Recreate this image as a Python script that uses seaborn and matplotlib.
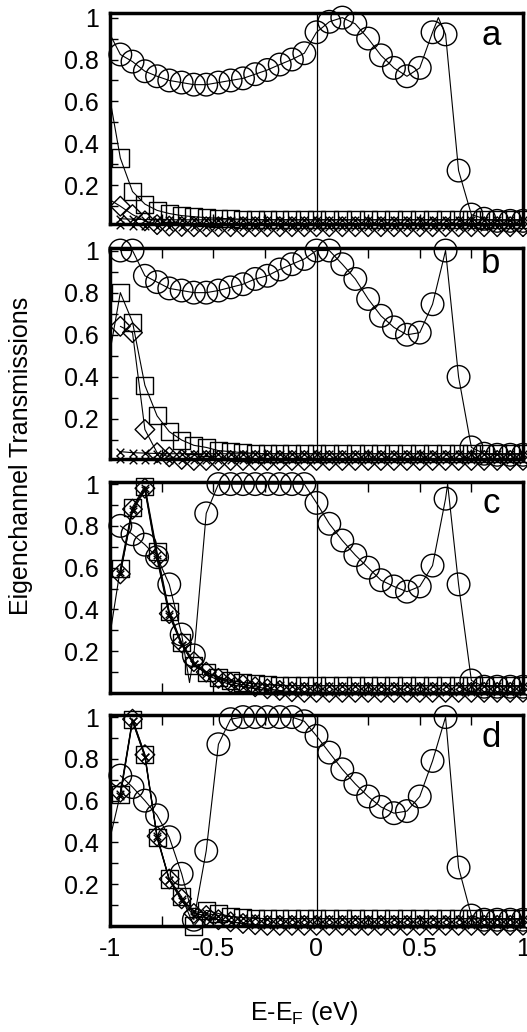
import pandas as pd
import matplotlib
matplotlib.use("Agg")
import matplotlib.pyplot as plt
import seaborn as sns

# energy grid (eV, relative to E_F) of the plotted points
energy = [-0.95, -0.891, -0.831, -0.772, -0.713, -0.653, -0.594, -0.534, -0.475,
          -0.416, -0.356, -0.297, -0.238, -0.178, -0.119, -0.059, 0.0,
          0.062, 0.125, 0.188, 0.25, 0.312, 0.375, 0.438, 0.5, 0.562, 0.625,
          0.688, 0.75, 0.812, 0.875, 0.938, 1.0]

# panel a
a_ch1 = [0.824, 0.79, 0.744, 0.72, 0.70, 0.69, 0.68, 0.68, 0.69, 0.70, 0.71, 0.73,
         0.75, 0.776, 0.80, 0.83, 0.93, 0.98, 1.0, 0.97, 0.90, 0.82, 0.76, 0.72,
         0.76, 0.93, 0.92, 0.27, 0.06, 0.04, 0.03, 0.03, 0.03]
a_ch2 = [0.33, 0.17, 0.11, 0.08, 0.065, 0.055, 0.05, 0.045, 0.042, 0.04, 0.038, 0.036,
         0.035, 0.035, 0.035, 0.035, 0.035, 0.035, 0.035, 0.035, 0.035, 0.035, 0.035,
         0.035, 0.035, 0.035, 0.035, 0.035, 0.035, 0.035, 0.035, 0.035, 0.035]
a_ch3 = [0.10, 0.06, 0.03, 0.012, 0.005, 0.003, 0.002, 0.002, 0.002, 0.002, 0.002,
         0.002, 0.002, 0.002, 0.002, 0.002, 0.002, 0.002, 0.002, 0.002, 0.002, 0.002,
         0.002, 0.002, 0.002, 0.002, 0.002, 0.002, 0.002, 0.002, 0.002, 0.002, 0.002]
a_ch4 = [0.04, 0.038, 0.036, 0.035, 0.035, 0.035, 0.035, 0.035, 0.035, 0.035, 0.035,
         0.035, 0.035, 0.035, 0.035, 0.035, 0.035, 0.035, 0.035, 0.035, 0.035, 0.035,
         0.035, 0.035, 0.035, 0.035, 0.035, 0.035, 0.035, 0.035, 0.035, 0.035, 0.035]
a_ch5 = [0.01, 0.006, 0.004, 0.003, 0.002, 0.002, 0.002, 0.002, 0.002, 0.002, 0.002,
         0.002, 0.002, 0.002, 0.002, 0.002, 0.002, 0.002, 0.002, 0.002, 0.002, 0.002,
         0.002, 0.002, 0.002, 0.002, 0.002, 0.002, 0.002, 0.002, 0.002, 0.002, 0.002]

# panel b
b_ch1 = [1.0, 1.0, 0.88, 0.85, 0.82, 0.81, 0.80, 0.80, 0.81, 0.825, 0.84, 0.865,
         0.88, 0.91, 0.935, 0.96, 1.0, 1.0, 0.935, 0.865, 0.77, 0.69, 0.635, 0.60,
         0.61, 0.745, 1.0, 0.40, 0.065, 0.035, 0.03, 0.03, 0.03]
b_ch2 = [0.80, 0.66, 0.36, 0.215, 0.14, 0.10, 0.075, 0.065, 0.05, 0.045, 0.04, 0.037,
         0.035, 0.035, 0.035, 0.035, 0.035, 0.035, 0.035, 0.035, 0.035, 0.035, 0.035,
         0.035, 0.035, 0.035, 0.035, 0.035, 0.035, 0.035, 0.035, 0.035, 0.035]
b_ch3 = [0.64, 0.61, 0.15, 0.04, 0.02, 0.008, 0.003, 0.003, 0.003, 0.003, 0.003,
         0.003, 0.003, 0.003, 0.003, 0.003, 0.003, 0.003, 0.003, 0.003, 0.003, 0.003,
         0.003, 0.003, 0.003, 0.003, 0.003, 0.003, 0.003, 0.003, 0.003, 0.003, 0.003]
b_ch4 = [0.045, 0.04, 0.038, 0.036, 0.035, 0.035, 0.035, 0.035, 0.035, 0.035, 0.035,
         0.035, 0.035, 0.035, 0.035, 0.035, 0.035, 0.035, 0.035, 0.035, 0.035, 0.035,
         0.035, 0.035, 0.035, 0.035, 0.035, 0.035, 0.035, 0.035, 0.035, 0.035, 0.035]
b_ch5 = [0.01, 0.006, 0.004, 0.003, 0.003, 0.003, 0.003, 0.003, 0.003, 0.003, 0.003,
         0.003, 0.003, 0.003, 0.003, 0.003, 0.003, 0.003, 0.003, 0.003, 0.003, 0.003,
         0.003, 0.003, 0.003, 0.003, 0.003, 0.003, 0.003, 0.003, 0.003, 0.003, 0.003]

# panel c
c_ch1 = [0.80, 0.76, 0.71, 0.65, 0.52, 0.28, 0.18, 0.86, 1.0, 1.0, 1.0, 1.0, 1.0,
         1.0, 1.0, 1.0, 0.91, 0.81, 0.73, 0.66, 0.60, 0.54, 0.51, 0.485, 0.51, 0.61,
         0.93, 0.52, 0.06, 0.03, 0.03, 0.03, 0.03]
c_ch2 = [0.595, 0.89, 0.99, 0.675, 0.39, 0.24, 0.13, 0.10, 0.075, 0.06, 0.05, 0.045,
         0.04, 0.037, 0.035, 0.035, 0.035, 0.035, 0.035, 0.035, 0.035, 0.035, 0.035,
         0.035, 0.035, 0.035, 0.035, 0.035, 0.035, 0.035, 0.035, 0.035, 0.035]
c_ch3 = [0.57, 0.88, 0.98, 0.65, 0.38, 0.24, 0.15, 0.10, 0.07, 0.05, 0.04, 0.03,
         0.02, 0.012, 0.006, 0.003, 0.003, 0.003, 0.003, 0.003, 0.003, 0.003, 0.003,
         0.003, 0.003, 0.003, 0.003, 0.003, 0.003, 0.003, 0.003, 0.003, 0.003]
c_ch4 = [0.58, 0.88, 0.98, 0.66, 0.38, 0.23, 0.14, 0.10, 0.075, 0.06, 0.05, 0.045,
         0.04, 0.037, 0.035, 0.035, 0.035, 0.035, 0.035, 0.035, 0.035, 0.035, 0.035,
         0.035, 0.035, 0.035, 0.035, 0.035, 0.035, 0.035, 0.035, 0.035, 0.035]
c_ch5 = [0.57, 0.87, 0.97, 0.64, 0.37, 0.23, 0.14, 0.09, 0.06, 0.04, 0.03, 0.02,
         0.012, 0.006, 0.003, 0.003, 0.003, 0.003, 0.003, 0.003, 0.003, 0.003, 0.003,
         0.003, 0.003, 0.003, 0.003, 0.003, 0.003, 0.003, 0.003, 0.003, 0.003]

# panel d
d_ch1 = [0.72, 0.665, 0.60, 0.53, 0.425, 0.25, 0.03, 0.36, 0.87, 0.99, 1.0, 1.0,
         1.0, 1.0, 1.0, 0.98, 0.91, 0.83, 0.75, 0.68, 0.62, 0.57, 0.54, 0.55, 0.62,
         0.79, 1.0, 0.28, 0.05, 0.03, 0.03, 0.03, 0.03]
d_ch2 = [0.63, 0.99, 0.82, 0.425, 0.225, 0.14, 0.0, 0.075, 0.06, 0.045, 0.04, 0.037,
         0.035, 0.035, 0.035, 0.035, 0.035, 0.035, 0.035, 0.035, 0.035, 0.035, 0.035,
         0.035, 0.035, 0.035, 0.035, 0.035, 0.035, 0.035, 0.035, 0.035, 0.035]
d_ch3 = [0.64, 0.99, 0.82, 0.43, 0.225, 0.13, 0.06, 0.05, 0.03, 0.02, 0.012, 0.006,
         0.003, 0.003, 0.003, 0.003, 0.003, 0.003, 0.003, 0.003, 0.003, 0.003, 0.003,
         0.003, 0.003, 0.003, 0.003, 0.003, 0.003, 0.003, 0.003, 0.003, 0.003]
d_ch4 = [0.62, 0.98, 0.81, 0.42, 0.22, 0.13, 0.07, 0.06, 0.05, 0.045, 0.04, 0.037,
         0.035, 0.035, 0.035, 0.035, 0.035, 0.035, 0.035, 0.035, 0.035, 0.035, 0.035,
         0.035, 0.035, 0.035, 0.035, 0.035, 0.035, 0.035, 0.035, 0.035, 0.035]
d_ch5 = [0.63, 0.98, 0.81, 0.43, 0.22, 0.12, 0.05, 0.04, 0.03, 0.02, 0.012, 0.006,
         0.003, 0.003, 0.003, 0.003, 0.003, 0.003, 0.003, 0.003, 0.003, 0.003, 0.003,
         0.003, 0.003, 0.003, 0.003, 0.003, 0.003, 0.003, 0.003, 0.003, 0.003]

# extra points of the finer curves (line only, no marker)
a_line1_x, a_line1_y = [-1.0, 0.59], [0.92, 1.0]
a_line2_x, a_line2_y = [-1.0], [0.61]
a_line3_x, a_line3_y = [-1.0], [0.13]
b_line2_x, b_line2_y = [-1.0], [0.52]
c_line1_x, c_line1_y = [-0.615, 0.635], [0.05, 1.0]
c_line2_x, c_line2_y = [-1.0], [0.28]
d_line2_x, d_line2_y = [-1.0], [0.42]

panel_letters = ["a", "b", "c", "d"]
y_tick_vals = [0.2, 0.4, 0.6, 0.8, 1.0]
y_tick_labels = ["0.2", "0.4", "0.6", "0.8", "1"]
x_tick_vals = [-1, -0.5, 0, 0.5, 1]
x_tick_labels = ["-1", "-0.5", "0", "0.5", "1"]

panels = [
    ([a_ch1, a_ch2, a_ch3, a_ch4, a_ch5],
     {0: (a_line1_x, a_line1_y), 1: (a_line2_x, a_line2_y), 2: (a_line3_x, a_line3_y)}),
    ([b_ch1, b_ch2, b_ch3, b_ch4, b_ch5], {1: (b_line2_x, b_line2_y)}),
    ([c_ch1, c_ch2, c_ch3, c_ch4, c_ch5],
     {0: (c_line1_x, c_line1_y), 1: (c_line2_x, c_line2_y)}),
    ([d_ch1, d_ch2, d_ch3, d_ch4, d_ch5], {1: (d_line2_x, d_line2_y)}),
]

sns.set_style("ticks")
plt.rcParams["font.family"] = ["Liberation Sans", "DejaVu Sans"]
plt.rcParams["mathtext.fontset"] = "custom"
plt.rcParams["mathtext.rm"] = "Liberation Sans"
plt.rcParams["axes.unicode_minus"] = False
plt.rcParams["text.color"] = "black"
plt.rcParams["xtick.color"] = "black"
plt.rcParams["ytick.color"] = "black"
plt.rcParams["xtick.labelcolor"] = "black"
plt.rcParams["ytick.labelcolor"] = "black"

marker_kw = [
    dict(marker="o", s=265, facecolor="none", edgecolor="k", linewidth=1.0),
    dict(marker="s", s=150, facecolor="none", edgecolor="k", linewidth=1.0),
    dict(marker="D", s=100, facecolor="none", edgecolor="k", linewidth=1.0),
    dict(marker="x", s=30, color="k", edgecolor=None, linewidth=1.0),
    dict(marker="x", s=30, color="k", edgecolor=None, linewidth=1.0),
]

fig = plt.figure(figsize=(5.27, 10.32), dpi=100)
panel_tops = [13, 248, 482, 715]
panel_h = 211
ylims = [(0.015, 1.022), (0.01, 1.012), (0.0, 1.01), (0.0, 1.01)]
letter_y = [0.85, 0.88, 0.855, 0.85]

for i, (chans, extras) in enumerate(panels):
    ax = fig.add_axes([110 / 527, 1 - (panel_tops[i] + panel_h) / 1032,
                       413 / 527, panel_h / 1032])
    frames = []
    for c, vals in enumerate(chans):
        ex_x, ex_y = extras.get(c, ([], []))
        frames.append(pd.DataFrame({"E": list(energy) + list(ex_x),
                                    "T": list(vals) + list(ex_y), "ch": c}))
    df = pd.concat(frames, ignore_index=True)
    sns.lineplot(data=df, x="E", y="T", units="ch", estimator=None, sort=True,
                 color="k", lw=0.8, ax=ax, legend=False)
    ax.axvline(0, color="k", lw=0.9)
    for c, vals in enumerate(chans):
        sns.scatterplot(x=energy, y=vals, ax=ax, clip_on=False, zorder=3,
                        legend=False, **marker_kw[c])

    ax.set_xlim(-1, 1)
    ax.set_ylim(*ylims[i])
    ax.set_yticks(y_tick_vals)
    ax.set_yticklabels(y_tick_labels)
    ax.set_yticks([0.1, 0.3, 0.5, 0.7, 0.9], minor=True)
    ax.set_xticks(x_tick_vals)
    ax.set_xticks([-0.75, -0.25, 0.25, 0.75], minor=True)
    if i == 3:
        ax.set_xticklabels(x_tick_labels)
    else:
        ax.set_xticklabels([])
    ax.tick_params(axis="y", which="both", direction="in", length=6, width=1,
                   left=True, right=False, labelsize=18, pad=8, colors="black")
    ax.tick_params(axis="x", which="both", direction="in", length=7, width=1,
                   bottom=True, top=(i > 0), labelsize=18, pad=8, colors="black")
    ax.set_xlabel("")
    ax.set_ylabel("")
    for sp in ax.spines.values():
        sp.set_linewidth(2.5)
        sp.set_color("k")
    ax.text(0.922, letter_y[i], panel_letters[i], transform=ax.transAxes,
            fontsize=25, ha="center", va="baseline", color="black")

fig.text(21 / 527, 1 - 456 / 1032, "Eigenchannel Transmissions", rotation=90,
         ha="center", va="center", fontsize=18, color="black")
fig.text(304 / 527, 1 - 1020 / 1032, r"E-E$_\mathregular{F}$ (eV)",
         ha="center", va="baseline", fontsize=18, color="black")

fig.savefig("out.png", dpi=100)
